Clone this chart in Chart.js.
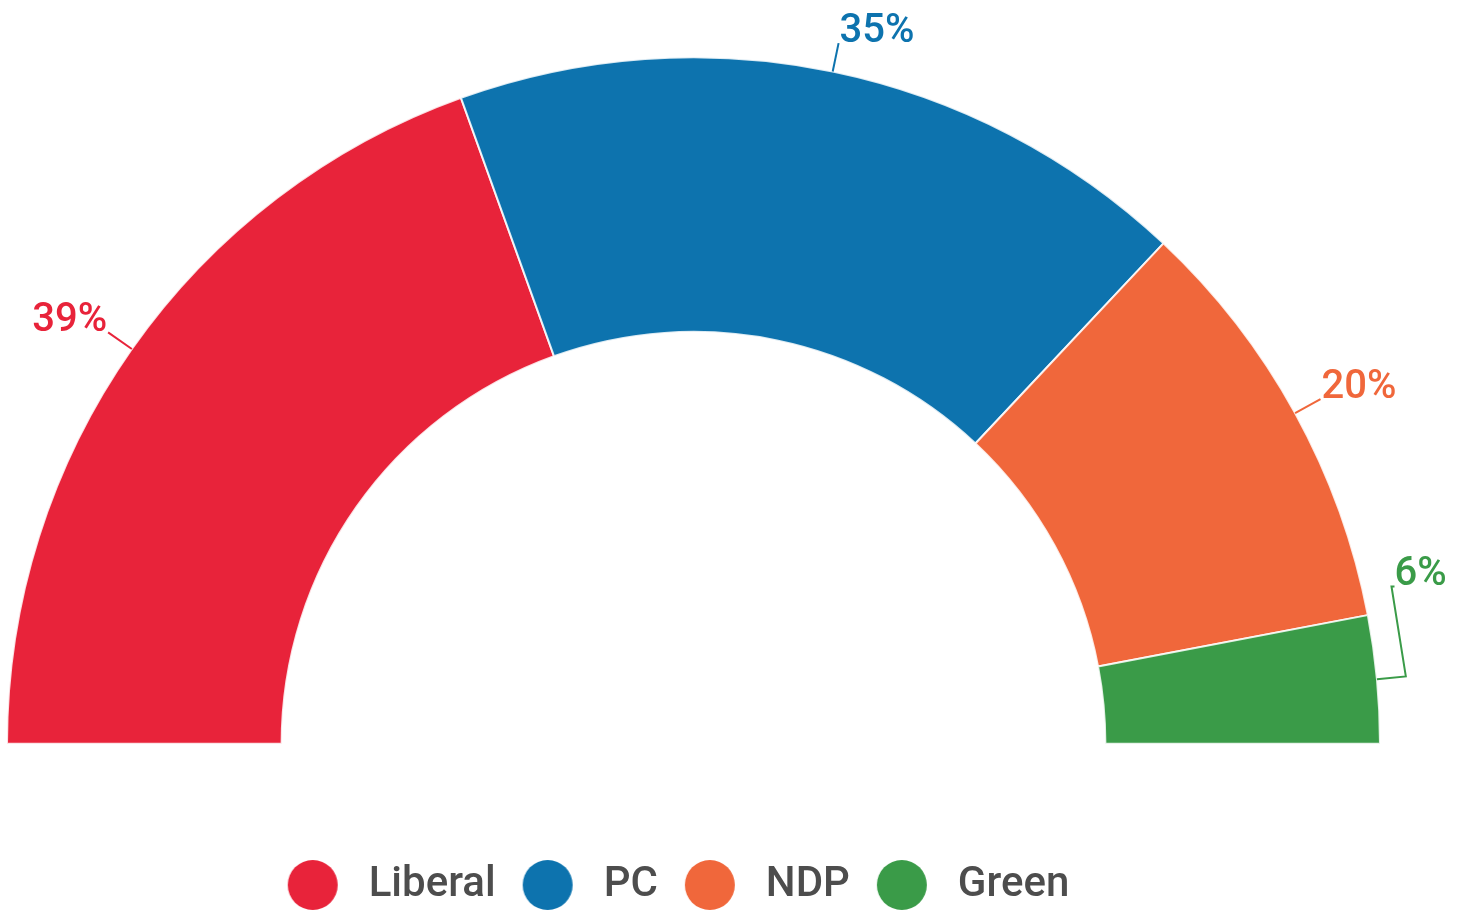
<!DOCTYPE html>
<html>
<head>
<meta charset="utf-8">
<script src="https://cdn.jsdelivr.net/npm/chart.js@4/dist/chart.umd.min.js"></script>
<style>
html,body{margin:0;padding:0;background:#ffffff;overflow:hidden;}
#wrap{width:1463px;height:914px;position:relative;overflow:hidden;}
canvas{display:block;}
</style>
</head>
<body>
<div id="wrap"><canvas id="c" width="1463" height="916"></canvas></div>
<script>
// ---- data ----
const parties = ['Liberal', 'PC', 'NDP', 'Green'];
const shares = [39, 35, 20, 6];
const partyColors = ['#E8233A', '#0D73AE', '#F0673B', '#3A9B48'];
const valueSuffix = '%';

// ---- legend dot images (circle drawn off-centre inside a transparent canvas) ----
const LEGEND_BOX_W = 30;
const DOT_R = 25;
function makeDot(color) {
  const offset = LEGEND_BOX_W / 2 - 35; // circle centre relative to box centre
  const c = document.createElement('canvas');
  const half = Math.abs(offset) + DOT_R + 2;
  c.width = Math.round(half * 2);
  c.height = (DOT_R + 2) * 2;
  const g = c.getContext('2d');
  g.fillStyle = color;
  g.beginPath();
  g.arc(c.width / 2 + offset, c.height / 2, DOT_R, 0, Math.PI * 2);
  g.fill();
  return c;
}

// ---- percentage labels with leader lines ----
const pctLabels = {
  id: 'pctLabels',
  afterDatasetsDraw(chart, args, opts) {
    const meta = chart.getDatasetMeta(0);
    const ds = chart.data.datasets[0];
    const ctx = chart.ctx;
    ctx.save();
    ctx.font = opts.font;
    ctx.lineWidth = opts.lineWidth;
    ctx.lineJoin = 'miter';
    ctx.textBaseline = 'alphabetic';
    meta.data.forEach((arc, i) => {
      const p = arc.getProps(['x', 'y', 'startAngle', 'endAngle', 'outerRadius'], true);
      const mid = (p.startAngle + p.endAngle) / 2;
      const cs = Math.cos(mid), sn = Math.sin(mid);
      const r0 = p.outerRadius;
      const r1 = r0 + opts.lineLength;
      const p0 = {x: p.x + cs * r0, y: p.y + sn * r0};
      const p1 = {x: p.x + cs * r1, y: p.y + sn * r1};
      const right = cs >= 0;
      const minDy = r1 * Math.sin(opts.minAngleDeg * Math.PI / 180);
      let anchor = p1;
      let lifted = false;
      if (p.y - p1.y < minDy) {
        lifted = true;
        anchor = {x: p.x + (right ? 1 : -1) * Math.sqrt(r1 * r1 - minDy * minDy), y: p.y - minDy};
      }
      const color = ds.backgroundColor[i];
      ctx.strokeStyle = color;
      ctx.fillStyle = color;
      ctx.beginPath();
      ctx.moveTo(p0.x, p0.y);
      ctx.lineTo(p1.x, p1.y);
      let tx;
      if (lifted) {
        ctx.lineTo(anchor.x, anchor.y);
        tx = anchor.x + (right ? opts.tick : -opts.tick);
        ctx.lineTo(tx, anchor.y);
      } else {
        tx = anchor.x + (right ? opts.gap : -opts.gap);
      }
      ctx.stroke();
      ctx.textAlign = right ? 'left' : 'right';
      ctx.fillText(shares[i] + valueSuffix, tx, anchor.y + opts.baselineShift);
    });
    ctx.restore();
  }
};

const chart = new Chart(document.getElementById('c'), {
  type: 'doughnut',
  data: {
    labels: parties,
    datasets: [{
      data: shares,
      backgroundColor: partyColors,
      borderColor: 'rgba(255,255,255,0.85)',
      borderWidth: 2,
      hoverOffset: 0,
      offset: 0
    }]
  },
  options: {
    responsive: false,
    devicePixelRatio: 1,
    animation: false,
    events: [],
    rotation: -90,
    circumference: 180,
    cutout: '60%',
    radius: 686.5,
    layout: {padding: {left: 6, right: 82, top: 0, bottom: 0}},
    plugins: {
      tooltip: {enabled: false},
      legend: {
        display: true,
        position: 'bottom',
        align: 'center',
        title: {display: true, text: '', font: {size: 5}, padding: 0},
        labels: {
          usePointStyle: true,
          pointStyleWidth: LEGEND_BOX_W,
          padding: 57,
          color: '#4d4d4d',
          font: {family: 'Roboto', size: 42, weight: '500'},
          generateLabels: (ch) => ch.data.labels.map((text, i) => ({
            text: text,
            fillStyle: partyColors[i],
            strokeStyle: partyColors[i],
            lineWidth: 0,
            fontColor: '#4d4d4d',
            pointStyle: makeDot(partyColors[i]),
            hidden: false,
            index: i,
            datasetIndex: 0
          }))
        }
      },
      pctLabels: {
        font: '500 40px Roboto',
        lineWidth: 2,
        lineLength: 29,
        minAngleDeg: 12.7,
        gap: 1,
        tick: 3,
        baselineShift: -1
      }
    }
  },
  plugins: [pctLabels]
});
</script>
</body>
</html>
